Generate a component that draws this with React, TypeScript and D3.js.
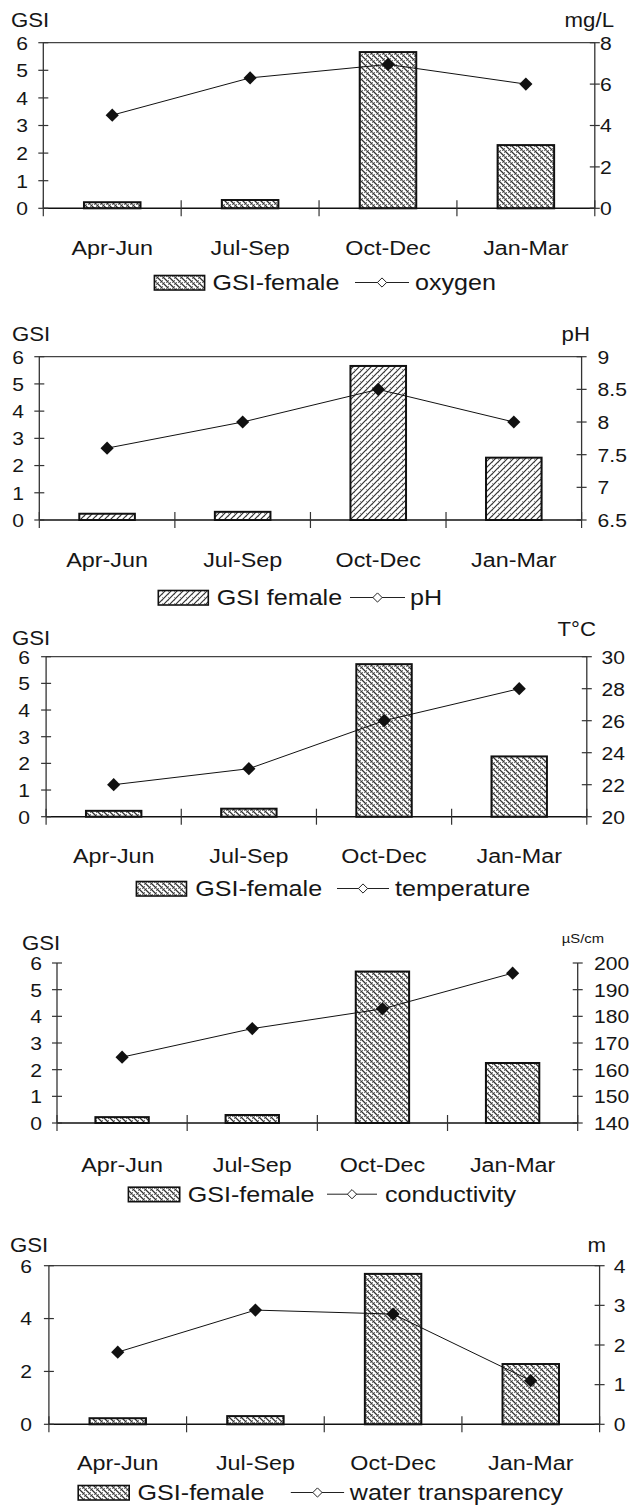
import React from "react";
import * as d3 from "d3";

// ---------- data ----------
const categories = ["Apr-Jun", "Jul-Sep", "Oct-Dec", "Jan-Mar"];

const gsiPanelOxygen = [0.22, 0.3, 5.66, 2.29];
const gsiPanelPh = [0.23, 0.3, 5.66, 2.29];
const gsiPanelTemp = [0.22, 0.3, 5.72, 2.26];
const gsiPanelCond = [0.22, 0.3, 5.68, 2.25];
const gsiPanelTransp = [0.23, 0.31, 5.69, 2.28];

const oxygen = [4.5, 6.3, 6.95, 6.0];
const ph = [7.6, 8.0, 8.5, 8.0];
const temperature = [22, 23, 26, 28];
const conductivity = [164.7, 175.4, 182.8, 196.2];
const transparency = [1.82, 2.88, 2.78, 1.1];

const gsiTicks = [0, 1, 2, 3, 4, 5, 6];
const gsiTicksSparse = [0, 2, 4, 6];
const oxygenTicks = [0, 2, 4, 6, 8];
const phTicks = [6.5, 7, 7.5, 8, 8.5, 9];
const tempTicks = [20, 22, 24, 26, 28, 30];
const condTicks = [140, 150, 160, 170, 180, 190, 200];
const transpTicks = [0, 1, 2, 3, 4];

// ---------- style ----------
const FONT = "'Liberation Sans', Arial, Helvetica, sans-serif";
const TXT = "#161616";

function T(props: {
  x: number;
  y: number;
  size: number;
  sx: number;
  anchor?: "start" | "middle" | "end";
  children: React.ReactNode;
}) {
  return (
    <text
      transform={`translate(${props.x},${props.y}) scale(${props.sx},1)`}
      fontSize={props.size}
      textAnchor={props.anchor || "start"}
      fontFamily={FONT}
      fill={TXT}
    >
      {props.children}
    </text>
  );
}

type Layout = {
  left: number;
  right: number;
  top: number;
  bottom: number;
  titleY: number;
  gsiTitleX: number;
  rightTitleX: number;
  rightTitleY: number;
  rightTitleSize: number;
  leftLabelX: number;
  rightLabelX: number;
  catY: number;
  legY: number;
  boxX1: number;
  boxX2: number;
  gsiTextX: number;
  lineX1: number;
  lineX2: number;
  seriesTextX: number;
  topBorder: boolean;
};

type PanelProps = {
  layout: Layout;
  gsi: number[];
  series: number[];
  leftTicks: number[];
  rightTicks: number[];
  rightDomain: [number, number];
  rightTitle: string;
  gsiName: string;
  seriesName: string;
  pattern: string;
};

function diamond(cx: number, cy: number, r: number) {
  return `M${cx},${cy - r}L${cx + r},${cy}L${cx},${cy + r}L${cx - r},${cy}Z`;
}

function Panel({
  layout: L,
  gsi,
  series,
  leftTicks,
  rightTicks,
  rightDomain,
  rightTitle,
  gsiName,
  seriesName,
  pattern,
}: PanelProps) {
  const x = d3.scaleBand<string>().domain(categories).range([L.left, L.right]).padding(0);
  const yL = d3.scaleLinear().domain([0, 6]).range([L.bottom, L.top]);
  const yR = d3.scaleLinear().domain(rightDomain).range([L.bottom, L.top]);
  const bw = x.bandwidth();
  const barW = bw * 0.41;
  const edges = categories.map((c) => x(c)!).concat([L.right]);
  const line = d3
    .line<number>()
    .x((_, i) => x(categories[i])! + bw / 2)
    .y((v) => yR(v));
  const tickSize = 19;
  const tickSx = 1.11;
  const boxTop = L.legY - 14.5;
  const lineY = L.legY - 7.5;
  return (
    <g>
      {/* bars */}
      {gsi.map((v, i) => (
        <rect
          key={i}
          x={x(categories[i])! + (bw - barW) / 2}
          y={yL(v)}
          width={barW}
          height={yL(0) - yL(v)}
          fill={`url(#${pattern})`}
          stroke="#111"
          strokeWidth={2}
        />
      ))}
      {/* axes */}
      {L.topBorder && (
        <line x1={L.left} x2={L.right} y1={L.top} y2={L.top} stroke="#444" strokeWidth={1.3} />
      )}
      <line x1={L.left} x2={L.left} y1={L.top} y2={L.bottom} stroke="#333" strokeWidth={1.3} />
      <line x1={L.right} x2={L.right} y1={L.top} y2={L.bottom} stroke="#333" strokeWidth={1.3} />
      <line x1={L.left} x2={L.right} y1={L.bottom} y2={L.bottom} stroke="#111" strokeWidth={1.6} />
      {edges.map((e, i) => (
        <line key={i} x1={e} x2={e} y1={L.bottom - 8} y2={L.bottom + 8} stroke="#333" strokeWidth={1.2} />
      ))}
      {leftTicks.map((t) => (
        <g key={"l" + t}>
          <line x1={L.left - 5} x2={L.left + 5} y1={yL(t)} y2={yL(t)} stroke="#333" strokeWidth={1.2} />
          <T x={L.leftLabelX} y={yL(t) + tickSize * 0.36} size={tickSize} sx={tickSx} anchor="end">
            {t}
          </T>
        </g>
      ))}
      {rightTicks.map((t) => (
        <g key={"r" + t}>
          <line x1={L.right - 5} x2={L.right + 5} y1={yR(t)} y2={yR(t)} stroke="#333" strokeWidth={1.2} />
          <T x={L.rightLabelX} y={yR(t) + tickSize * 0.36} size={tickSize} sx={tickSx}>
            {String(t)}
          </T>
        </g>
      ))}
      {/* titles */}
      <T x={L.gsiTitleX} y={L.titleY} size={19.5} sx={1.14}>
        GSI
      </T>
      <T x={L.rightTitleX} y={L.rightTitleY} size={L.rightTitleSize} sx={1.14} anchor="end">
        {rightTitle}
      </T>
      {/* category labels */}
      {categories.map((c) => (
        <T key={c} x={x(c)! + bw / 2} y={L.catY} size={21} sx={1.11} anchor="middle">
          {c}
        </T>
      ))}
      {/* series line */}
      <path d={line(series) || ""} fill="none" stroke="#111" strokeWidth={1} />
      {series.map((v, i) => (
        <path key={i} d={diamond(x(categories[i])! + bw / 2, yR(v), 6.6)} fill="#111" />
      ))}
      {/* legend */}
      <rect
        x={L.boxX1}
        y={boxTop}
        width={L.boxX2 - L.boxX1}
        height={14.5}
        fill={`url(#${pattern})`}
        stroke="#111"
        strokeWidth={1.6}
      />
      <T x={L.gsiTextX} y={L.legY} size={22} sx={1.14}>
        {gsiName}
      </T>
      <line x1={L.lineX1} x2={L.lineX2} y1={lineY} y2={lineY} stroke="#222" strokeWidth={1} />
      <path d={diamond((L.lineX1 + L.lineX2) / 2, lineY, 4.6)} fill="#fff" stroke="#222" strokeWidth={1} />
      <T x={L.seriesTextX} y={L.legY} size={22} sx={1.14}>
        {seriesName}
      </T>
    </g>
  );
}

const L1: Layout = {
  left: 43.3, right: 594.8, top: 42.7, bottom: 208.3,
  titleY: 26.7, gsiTitleX: 11, rightTitleX: 614, rightTitleY: 26.7, rightTitleSize: 19.5,
  leftLabelX: 28, rightLabelX: 600, catY: 255, legY: 290,
  boxX1: 154.4, boxX2: 204.6, gsiTextX: 212.6, lineX1: 355, lineX2: 409, seriesTextX: 415,
  topBorder: true,
};
const L2: Layout = {
  left: 39.3, right: 581.6, top: 356.7, bottom: 520,
  titleY: 340.7, gsiTitleX: 12, rightTitleX: 590, rightTitleY: 340.7, rightTitleSize: 19.5,
  leftLabelX: 24, rightLabelX: 597.6, catY: 566.7, legY: 605,
  boxX1: 158.3, boxX2: 208.3, gsiTextX: 216.7, lineX1: 350, lineX2: 405, seriesTextX: 410,
  topBorder: true,
};
const L3: Layout = {
  left: 46.1, right: 586.8, top: 656.7, bottom: 816.7,
  titleY: 645, gsiTitleX: 12, rightTitleX: 596, rightTitleY: 636, rightTitleSize: 19.5,
  leftLabelX: 30, rightLabelX: 601.6, catY: 863.3, legY: 896,
  boxX1: 136.4, boxX2: 186.5, gsiTextX: 195.3, lineX1: 337, lineX2: 389, seriesTextX: 395,
  topBorder: true,
};
const L4: Layout = {
  left: 57, right: 577.7, top: 963, bottom: 1123,
  titleY: 950, gsiTitleX: 22, rightTitleX: 604, rightTitleY: 942.7, rightTitleSize: 13,
  leftLabelX: 42, rightLabelX: 594, catY: 1171.7, legY: 1201.7,
  boxX1: 128.4, boxX2: 179.7, gsiTextX: 187.7, lineX1: 327, lineX2: 377, seriesTextX: 385,
  topBorder: false,
};
const L5: Layout = {
  left: 48.9, right: 599.6, top: 1265.7, bottom: 1424.3,
  titleY: 1251.7, gsiTitleX: 10, rightTitleX: 606, rightTitleY: 1251.7, rightTitleSize: 19.5,
  leftLabelX: 32, rightLabelX: 613.7, catY: 1470, legY: 1500,
  boxX1: 78.2, boxX2: 129.2, gsiTextX: 137.6, lineX1: 290.8, lineX2: 344.1, seriesTextX: 349.8,
  topBorder: true,
};

export default function App() {
  return (
    <svg
      width={629}
      height={1507}
      style={{ position: "absolute", left: 0, top: 0, background: "#fff" }}
    >
      <defs>
        <pattern id="back" patternUnits="userSpaceOnUse" width={6} height={6}>
          <rect width={6} height={6} fill="#fff" />
          <path d="M-1,-1L7,7M-4,2L4,10M2,-4L10,4" stroke="#333" strokeWidth={1.25} />
          <path d="M0,0.5H6M0.5,0V6" stroke="#777" strokeWidth={1} strokeDasharray="1,1" />
        </pattern>
        <pattern id="fwd" patternUnits="userSpaceOnUse" width={6} height={6}>
          <rect width={6} height={6} fill="#fff" />
          <path d="M-1,7L7,-1M-4,4L4,-4M2,10L10,2" stroke="#333" strokeWidth={1.2} />
          <path d="M0.5,0V6" stroke="#999" strokeWidth={1} strokeDasharray="1,2" />
        </pattern>
      </defs>
      <Panel layout={L1} gsi={gsiPanelOxygen} series={oxygen} leftTicks={gsiTicks} rightTicks={oxygenTicks}
        rightDomain={[0, 8]} rightTitle="mg/L" gsiName="GSI-female" seriesName="oxygen" pattern="back" />
      <Panel layout={L2} gsi={gsiPanelPh} series={ph} leftTicks={gsiTicks} rightTicks={phTicks}
        rightDomain={[6.5, 9]} rightTitle="pH" gsiName="GSI female" seriesName="pH" pattern="fwd" />
      <Panel layout={L3} gsi={gsiPanelTemp} series={temperature} leftTicks={gsiTicks} rightTicks={tempTicks}
        rightDomain={[20, 30]} rightTitle="T°C" gsiName="GSI-female" seriesName="temperature" pattern="back" />
      <Panel layout={L4} gsi={gsiPanelCond} series={conductivity} leftTicks={gsiTicks} rightTicks={condTicks}
        rightDomain={[140, 200]} rightTitle="µS/cm" gsiName="GSI-female" seriesName="conductivity" pattern="back" />
      <Panel layout={L5} gsi={gsiPanelTransp} series={transparency} leftTicks={gsiTicksSparse} rightTicks={transpTicks}
        rightDomain={[0, 4]} rightTitle="m" gsiName="GSI-female" seriesName="water transparency" pattern="back" />
    </svg>
  );
}
